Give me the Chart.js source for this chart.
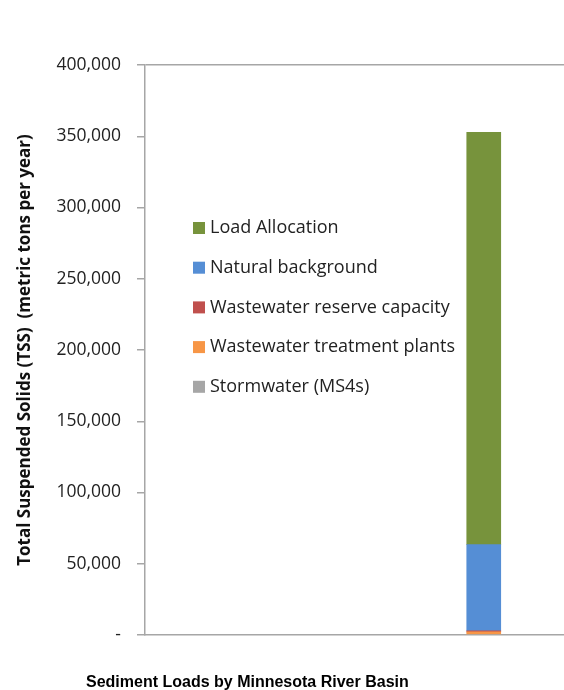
<!DOCTYPE html>
<html>
<head>
<meta charset="utf-8">
<script src="https://cdn.jsdelivr.net/npm/chart.js@4"></script>
<style>
  html, body { margin: 0; padding: 0; background: #fff; }
  #wrap { position: relative; width: 564px; height: 690px; overflow: hidden; }
  #caption {
    position: absolute; left: 86px; top: 673px;
    font: bold 16px "Liberation Sans", Arial, sans-serif; color: #000;
    white-space: nowrap;
  }
</style>
</head>
<body>
<div id="wrap">
  <canvas id="chart-loads" width="690" height="690"></canvas>
  <div id="caption">Sediment Loads by Minnesota River Basin</div>
</div>
<script>
// Categorias (etiquetas del eje x vacias)
const categorias = ['', '', '', ''];

// Cargas por fuente, toneladas metricas por año (de abajo hacia arriba)
const stormwater = [null, null, 400, null];
const plantas = [null, null, 1800, null];
const reserva = [null, null, 800, null];
const fondoNatural = [null, null, 60400, null];
const asignacion = [null, null, 289400, null];

const yTicks = [0, 50000, 100000, 150000, 200000, 250000, 300000, 350000, 400000];

const ejeColor = '#a6a6a6';

// Leyenda dibujada dentro del area del grafico
const leyendaInterna = {
    id: 'leyendaInterna',
    afterDraw(chart) {
        const ctx = chart.ctx;
        const items = chart.data.datasets.slice().reverse();
        ctx.save();
        ctx.font = '18px "Open Sans", sans-serif';
        ctx.textBaseline = 'middle';
        items.forEach((ds, i) => {
            const y = 228 + i * 39.7;
            ctx.fillStyle = ds.backgroundColor;
            ctx.fillRect(193, y - 6, 12, 12);
            ctx.fillStyle = '#222';
            ctx.fillText(ds.label, 210, y);
        });
        ctx.restore();
    }
};

new Chart(document.getElementById('chart-loads'), {
    type: 'bar',
    data: {
        labels: categorias,
        datasets: [{
            label: 'Stormwater (MS4s)',
            data: stormwater,
            backgroundColor: '#a6a6a6',
        }, {
            label: 'Wastewater treatment plants',
            data: plantas,
            backgroundColor: '#f79646',
        }, {
            label: 'Wastewater reserve capacity',
            data: reserva,
            backgroundColor: '#c0504d',
        }, {
            label: 'Natural background',
            data: fondoNatural,
            backgroundColor: '#558ed5',
        }, {
            label: 'Load Allocation',
            data: asignacion,
            backgroundColor: '#77933c',
        }],
    },
    options: {
        responsive: false,
        animation: false,
        barThickness: 34,
        layout: { padding: { top: 65, left: 8, right: 3, bottom: 47 } },
        plugins: {
            legend: { display: false },
            tooltip: { enabled: false },
        },
        scales: {
            x: {
                stacked: true,
                ticks: { display: false },
                grid: { display: false },
                border: { color: ejeColor, width: 1.5 },
            },
            y: {
                stacked: true,
                min: 0,
                max: 400000,
                afterFit(scale) { scale.width = 137; },
                afterBuildTicks(scale) { scale.ticks = yTicks.map(v => ({ value: v })); },
                ticks: {
                    padding: 16,
                    color: '#222',
                    font: { family: '"Open Sans", sans-serif', size: 17.5 },
                    callback: v => v === 0 ? '-' : v.toLocaleString('en-US'),
                },
                grid: {
                    tickLength: 8,
                    tickColor: ejeColor,
                    color: ctx => ctx.tick && ctx.tick.value === 400000 ? ejeColor : 'rgba(0,0,0,0)',
                    lineWidth: 1.5,
                },
                border: { color: ejeColor, width: 1.5 },
                title: {
                    display: true,
                    text: 'Total Suspended Solids (TSS)  (metric tons per year)',
                    color: '#111',
                    font: { family: '"Open Sans", sans-serif', size: 17, weight: 'bold' },
                    padding: { top: 7, bottom: 0 },
                },
            },
        },
    },
    plugins: [leyendaInterna],
});
</script>
</body>
</html>
